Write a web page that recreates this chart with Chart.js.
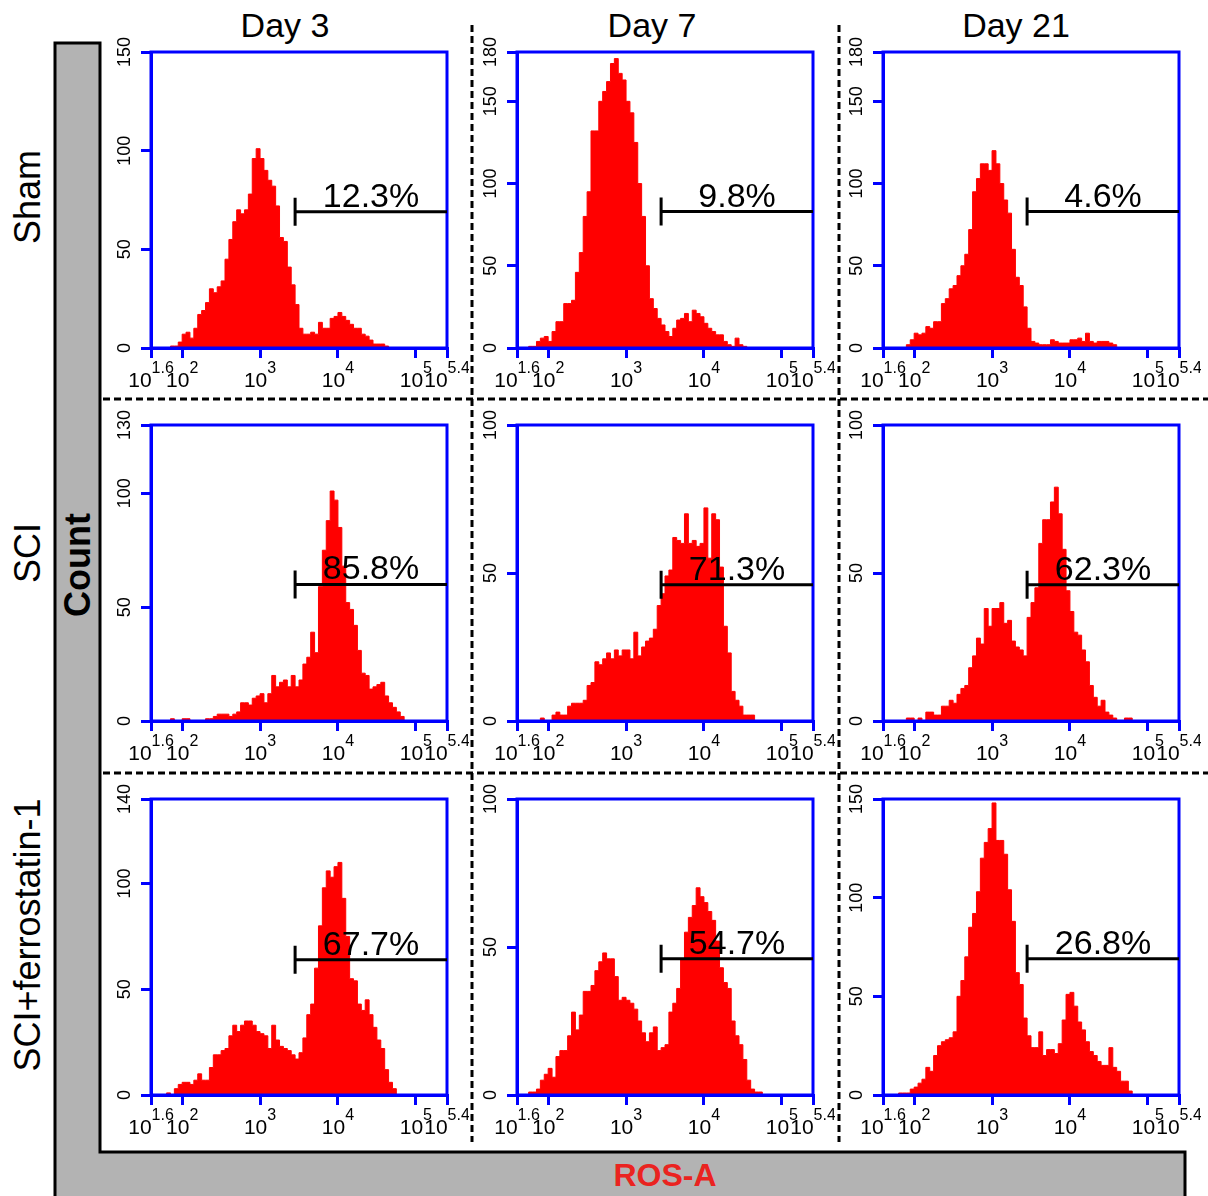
<!DOCTYPE html>
<html lang="en">
<head>
<meta charset="UTF-8" />
<title>ROS-A histograms</title>
<style>
  body { margin: 0; background: #fff; }
  #fig { position: relative; width: 1208px; height: 1196px; overflow: hidden; background: #fff;
         font-family: "Liberation Sans", Arial, sans-serif; }
  #fig canvas { position: absolute; }
  .lbl { position: absolute; white-space: nowrap; line-height: 1; color: #000;
         transform: translate(-50%, -50%); }
  .rot { transform: translate(-50%, -50%) rotate(-90deg); }
</style>
<script src="https://cdn.jsdelivr.net/npm/chart.js@4.4.0/dist/chart.umd.min.js"></script>
</head>
<body>
<div id="fig">
  <svg width="1208" height="1196" style="position:absolute;left:0;top:0">
    <polygon points="55,43 100,43 100,1152 1185,1152 1185,1200 55,1200" fill="#b3b3b3" stroke="#000" stroke-width="3"/>
    <g stroke="#000" stroke-width="3" stroke-dasharray="7 4">
      <line x1="472" y1="25" x2="472" y2="1142"/>
      <line x1="839" y1="25" x2="839" y2="1142"/>
      <line x1="103" y1="399" x2="1208" y2="399"/>
      <line x1="103" y1="773" x2="1208" y2="773"/>
    </g>
  </svg>
  <div class="lbl" style="left:285px;top:25px;font-size:34px">Day 3</div>
  <div class="lbl" style="left:652px;top:25px;font-size:34px">Day 7</div>
  <div class="lbl" style="left:1016px;top:25px;font-size:34px">Day 21</div>
  <div class="lbl rot" style="left:28px;top:197px;font-size:36px">Sham</div>
  <div class="lbl rot" style="left:28px;top:553px;font-size:36px">SCI</div>
  <div class="lbl rot" style="left:28px;top:935px;font-size:36px">SCI+ferrostatin-1</div>
  <div class="lbl rot" style="left:78px;top:565px;font-size:36px;font-weight:bold">Count</div>
  <div class="lbl" style="left:665px;top:1175px;font-size:32px;font-weight:bold;color:#ea2320">ROS-A</div>
</div>

<script>
// histogram bins, in log10 units of ROS-A
const binStart = 1.6;
const binWidth = 0.05;
const xTicks = [1.6, 2, 3, 4, 5, 5.4];

// counts per bin
const sham3 = [0,0,0,0,0,1,1,3,7,8, 5,10,17,19,23,30,28,31,34,45, 55,64,70,68,70,78,96,101,96,90,
  85,82,72,56,54,41,32,22,10,7, 7,8,7,13,10,10,15,16,18,16, 14,12,10,10,7,6,4,2,2,2, 1];
const sham7 = [0,0,0,1,1,4,6,7,4,10, 16,16,27,27,29,46,58,80,95,132, 132,150,156,162,173,176,167,163,150,143,
  125,100,80,50,30,24,18,14,10,7, 12,17,18,21,16,23,21,19,15,12, 10,8,8,4,2,1,6,2,1];
const sham21 = [0,0,0,0,0,0,2,5,9,8, 9,13,12,16,16,27,30,36,38,44, 50,57,72,95,103,112,112,108,120,112,
  100,90,82,60,43,38,25,12,4,3, 2,2,2,5,4,3,3,3,5,5, 6,4,9,4,3,4,4,4,3,2];
const sci3 = [0,0,0,0,0,1,0,0,1,1, 0,0,0,0,1,1,2,3,3,3, 2,3,4,8,8,7,10,11,12,8,
  12,20,15,17,18,15,20,15,18,25, 28,39,30,59,75,88,101,97,85,68, 52,49,42,31,21,20,14,15,16,17, 11,8,6,4,2];
const sci7 = [0,0,0,0,0,0,1,0,0,2, 3,2,2,5,6,6,6,7,12,13, 20,19,21,23,21,24,22,24,24,21,
  30,22,25,27,28,31,39,43,49,51, 62,61,60,70,60,61,59,60,72,55, 70,68,52,32,23,10,7,5,2,2, 2];
const sci21 = [0,0,0,0,0,0,1,1,0,1, 0,3,3,2,2,5,5,7,6,9, 11,12,18,22,28,26,38,32,38,38,
  40,33,34,27,25,24,22,35,40,45, 60,68,68,74,79,70,58,44,37,30, 29,24,20,12,8,5,7,3,2,1, 0,0,1,1];
const fer3 = [0,0,0,0,1,0,3,5,6,6, 5,7,10,7,7,13,19,19,21,22, 28,33,30,33,35,35,33,30,29,28,
  22,33,26,23,22,21,19,17,20,27, 38,43,60,80,98,106,103,108,110,93, 75,55,54,43,40,45,38,32,26,22, 12,6,3];
const fer7 = [0,0,0,1,1,2,5,7,9,6, 13,15,15,20,28,22,27,35,35,37, 42,45,48,46,46,40,32,33,32,31,
  29,25,21,18,21,23,15,16,17,28, 31,36,46,55,60,64,70,67,65,62, 59,52,43,38,36,25,20,17,12,5, 2,1,1];
const fer21 = [0,0,0,0,1,1,1,3,4,6, 8,14,12,20,25,27,28,29,32,50, 58,70,85,92,103,120,128,135,148,129,
  129,122,104,88,62,56,39,30,24,24, 32,20,23,23,21,26,38,51,52,45, 37,33,27,22,20,17,15,15,24,14, 12,7,7,2];

const counts = [[sham3, sham7, sham21], [sci3, sci7, sci21], [fer3, fer7, fer21]];
const yMax = [[150, 180, 180], [130, 100, 100], [140, 100, 150]];
const yTicks = [
  [[0, 50, 100, 150], [0, 50, 100, 150, 180], [0, 50, 100, 150, 180]],
  [[0, 50, 100, 130], [0, 50, 100], [0, 50, 100]],
  [[0, 50, 100, 140], [0, 50, 100], [0, 50, 100, 150]]
];
const gatePct = [['12.3%', '9.8%', '4.6%'], ['85.8%', '71.3%', '62.3%'], ['67.7%', '54.7%', '26.8%']];
const gateY = [[69, 83, 83], [60, 46, 46], [64, 46, 69]];
const gateX = 3.45;

// where each plot box sits on the page
const colLeft = [151, 517, 883];
const rowTop = [52, 425, 799];
const plotW = 296, plotH = 296;
const padL = 60, padT = 15, padR = 22, padB = 55;
const FONT = '"Liberation Sans", Arial, sans-serif';
const BLUE = '#0000ff';

const panelDeco = {
  id: 'panelDeco',
  afterDatasetsDraw(chart, args, opts) {
    const ctx = chart.ctx, a = chart.chartArea;
    const x = chart.scales.x, y = chart.scales.y;
    ctx.save();
    ctx.strokeStyle = BLUE;
    ctx.lineWidth = 3;
    ctx.strokeRect(a.left, a.top, a.right - a.left, a.bottom - a.top);

    // gate marker
    const gx = x.getPixelForValue(opts.gateX);
    const gy = y.getPixelForValue(opts.gateY);
    ctx.strokeStyle = '#000';
    ctx.lineWidth = 3;
    ctx.beginPath();
    ctx.moveTo(gx, gy); ctx.lineTo(a.right, gy);
    ctx.moveTo(gx, gy - 14); ctx.lineTo(gx, gy + 14);
    ctx.stroke();
    ctx.fillStyle = '#000';
    ctx.font = '34px ' + FONT;
    ctx.textAlign = 'center';
    ctx.textBaseline = 'alphabetic';
    ctx.fillText(opts.label, (gx + a.right) / 2, gy - 5);
    ctx.restore();
  },
  afterDraw(chart) {
    const ctx = chart.ctx, a = chart.chartArea;
    const x = chart.scales.x, y = chart.scales.y;
    ctx.save();
    ctx.fillStyle = '#000';
    // y labels, turned
    ctx.font = '18px ' + FONT;
    ctx.textAlign = 'center';
    ctx.textBaseline = 'middle';
    y.ticks.forEach(t => {
      ctx.save();
      ctx.translate(a.left - 26, y.getPixelForValue(t.value));
      ctx.rotate(-Math.PI / 2);
      ctx.fillText(String(t.value), 0, 0);
      ctx.restore();
    });
    // x labels as 10 with a raised power
    ctx.textAlign = 'left';
    ctx.textBaseline = 'alphabetic';
    x.ticks.forEach(t => {
      const px = x.getPixelForValue(t.value);
      const p = String(t.value);
      ctx.font = '21px ' + FONT;
      const w1 = ctx.measureText('10').width;
      ctx.font = '16px ' + FONT;
      const w2 = ctx.measureText(p).width;
      const x0 = px - (w1 + w2) / 2;
      ctx.font = '21px ' + FONT;
      ctx.fillText('10', x0, a.bottom + 39);
      ctx.font = '16px ' + FONT;
      ctx.fillText(p, x0 + w1, a.bottom + 25);
    });
    ctx.restore();
  }
};

const fig = document.getElementById('fig');

function makePanel(r, c) {
  const canvas = document.createElement('canvas');
  canvas.width = plotW + padL + padR;
  canvas.height = plotH + padT + padB;
  canvas.style.left = (colLeft[c] - padL) + 'px';
  canvas.style.top = (rowTop[r] - padT) + 'px';
  fig.appendChild(canvas);

  const vals = counts[r][c];
  const pts = vals.map((v, i) => ({x: binStart + i * binWidth, y: v}));
  pts.push({x: binStart + vals.length * binWidth, y: 0});

  const axisGrid = {display: true, drawOnChartArea: false, drawTicks: true, tickLength: 10, color: BLUE, lineWidth: 3};
  const axisBorder = {display: true, color: BLUE, width: 3, z: 1};
  const hiddenTicks = {color: 'rgba(0,0,0,0)', font: {size: 9}, padding: 0, autoSkip: false, maxRotation: 0};

  new Chart(canvas, {
    type: 'line',
    data: {
      datasets: [{
        data: pts,
        stepped: true,
        fill: 'origin',
        backgroundColor: '#ff0000',
        borderColor: '#ff0000',
        borderWidth: 1,
        pointRadius: 0
      }]
    },
    options: {
      responsive: false,
      animation: false,
      layout: {padding: {left: 0, top: padT, right: padR, bottom: 0}},
      plugins: {
        legend: {display: false},
        tooltip: {enabled: false},
        panelDeco: {gateX: gateX, gateY: gateY[r][c], label: gatePct[r][c]}
      },
      scales: {
        x: {
          type: 'linear', min: xTicks[0], max: xTicks[xTicks.length - 1],
          afterBuildTicks: s => { s.ticks = xTicks.map(v => ({value: v})); },
          afterFit: s => { s.height = padB; },
          grid: axisGrid, border: axisBorder, ticks: hiddenTicks
        },
        y: {
          type: 'linear', min: 0, max: yMax[r][c],
          afterBuildTicks: s => { s.ticks = yTicks[r][c].map(v => ({value: v})); },
          afterFit: s => { s.width = padL; },
          grid: axisGrid, border: axisBorder, ticks: hiddenTicks
        }
      }
    },
    plugins: [panelDeco]
  });
}

for (let r = 0; r < 3; r++) {
  for (let c = 0; c < 3; c++) makePanel(r, c);
}
</script>
</body>
</html>
